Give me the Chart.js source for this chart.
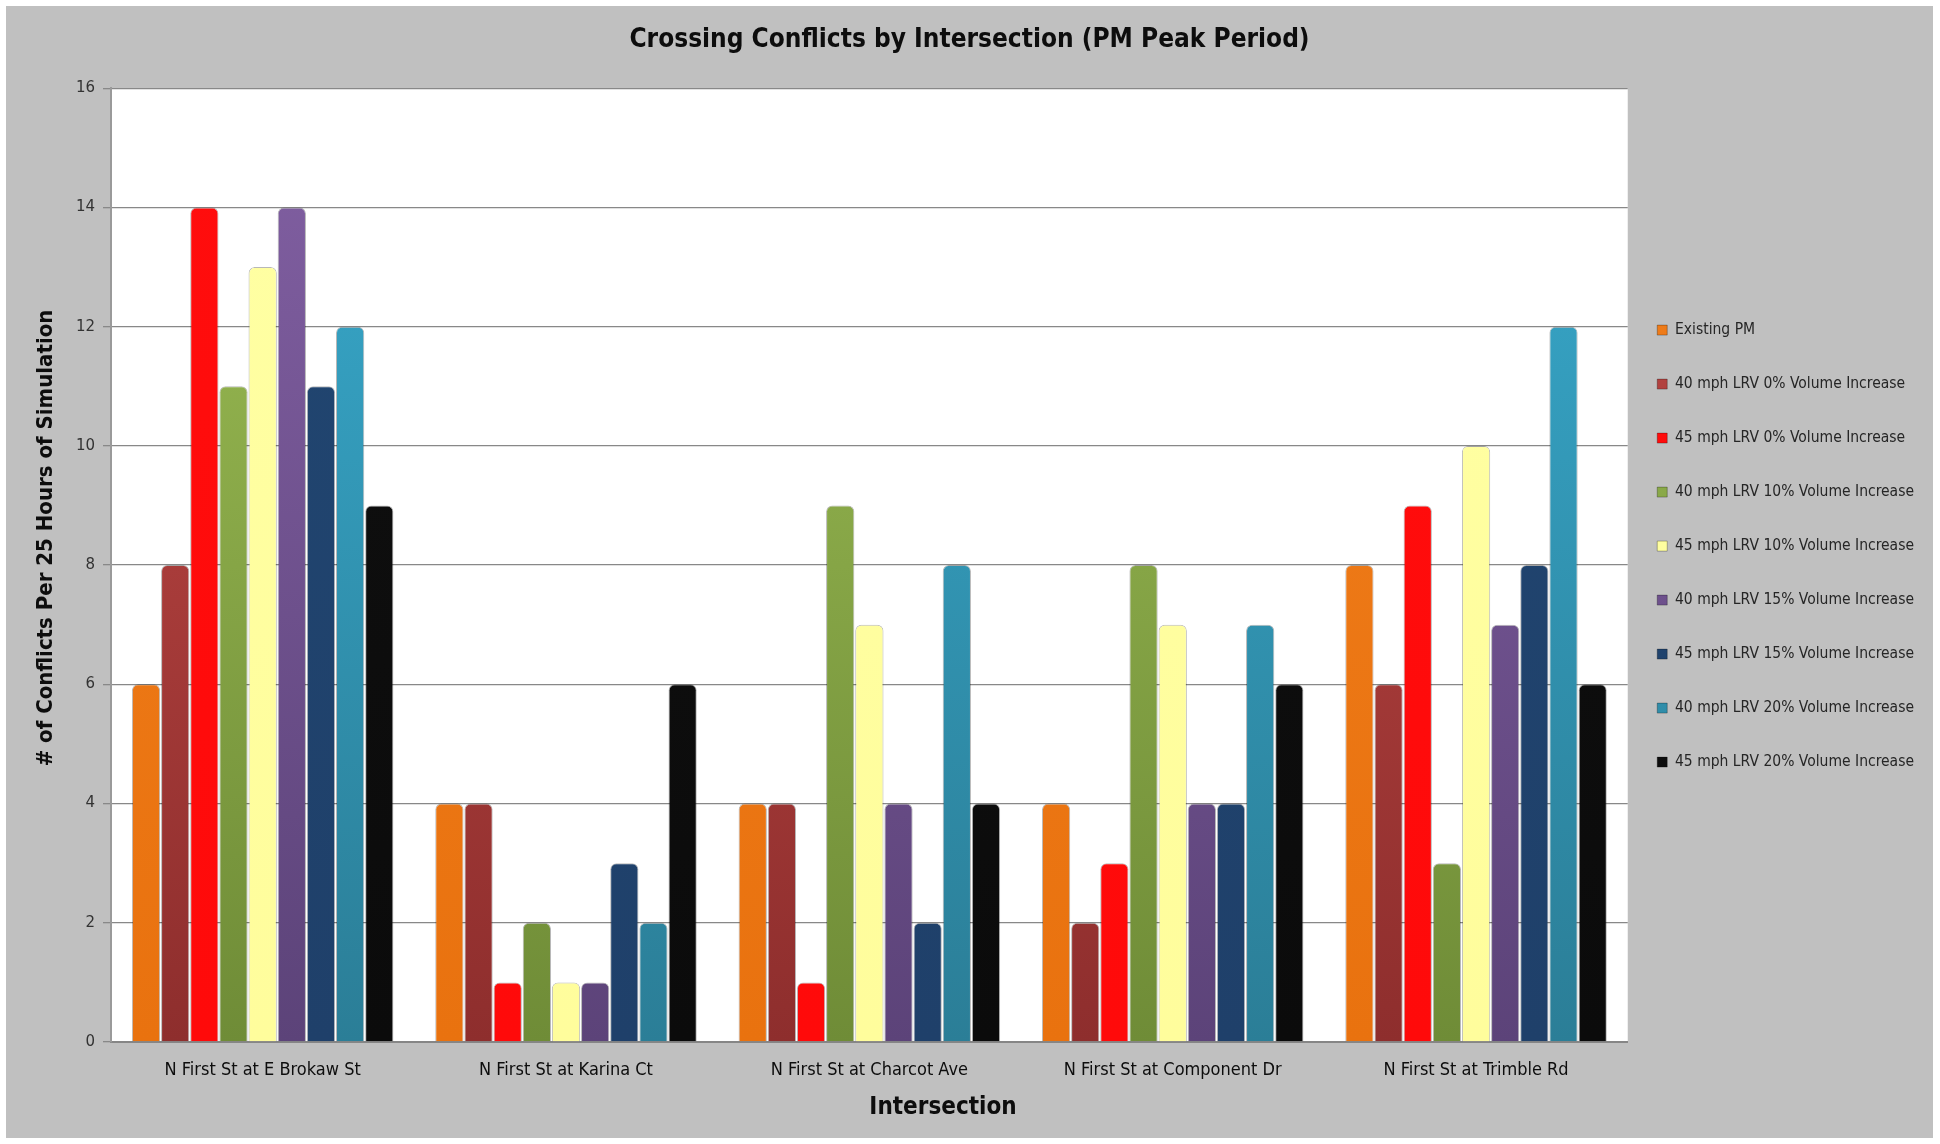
<!DOCTYPE html>
<html>
<head>
<meta charset="utf-8">
<title>Crossing Conflicts by Intersection (PM Peak Period)</title>
<script src="https://cdn.jsdelivr.net/npm/chart.js@4/dist/chart.umd.min.js"></script>
<style>
  html, body { margin: 0; padding: 0; background: #ffffff; }
  #wrap { width: 1940px; height: 1144px; position: relative; }
  canvas { display: block; }
</style>
</head>
<body>
<div id="wrap"><canvas id="chart" width="1940" height="1144"></canvas></div>
<script>
// Intersections along N First St
const intersections = [
  'N First St at E Brokaw St',
  'N First St at Karina Ct',
  'N First St at Charcot Ave',
  'N First St at Component Dr',
  'N First St at Trimble Rd'
];

// Conflicts per 25 hours of simulation, one array per scenario
const existingPM      = [6, 4, 4, 4, 8];
const lrv40Vol0       = [8, 4, 4, 2, 6];
const lrv45Vol0       = [14, 1, 1, 3, 9];
const lrv40Vol10      = [11, 2, 9, 8, 3];
const lrv45Vol10      = [13, 1, 7, 7, 10];
const lrv40Vol15      = [14, 1, 4, 4, 7];
const lrv45Vol15      = [11, 3, 2, 4, 8];
const lrv40Vol20      = [12, 2, 8, 7, 12];
const lrv45Vol20      = [9, 6, 4, 6, 6];

const yTicks = [0, 2, 4, 6, 8, 10, 12, 14, 16];

const NARROW = '"Liberation Sans Narrow", "Arial Narrow", "DejaVu Sans Condensed", sans-serif';

// Scenario styling: [label, values, top colour, bottom colour]
const scenarios = [
  ['Existing PM',                     existingPM, '#F07E1C', '#E9720F'],
  ['40 mph LRV 0% Volume Increase',   lrv40Vol0,  '#C24A47', '#8E2E2D'],
  ['45 mph LRV 0% Volume Increase',   lrv45Vol0,  '#FF0D0D', '#FF0A0A'],
  ['40 mph LRV 10% Volume Increase',  lrv40Vol10, '#9DBE55', '#6F8C37'],
  ['45 mph LRV 10% Volume Increase',  lrv45Vol10, '#FFFFA3', '#FFFD9C'],
  ['40 mph LRV 15% Volume Increase',  lrv40Vol15, '#8260A3', '#5C4379'],
  ['45 mph LRV 15% Volume Increase',  lrv45Vol15, '#214671', '#1F406A'],
  ['40 mph LRV 20% Volume Increase',  lrv40Vol20, '#38AACD', '#2B7E97'],
  ['45 mph LRV 20% Volume Increase',  lrv45Vol20, '#101010', '#0B0B0B']
];

function shade(top, bottom) {
  return function (ctx) {
    const area = ctx.chart.chartArea;
    if (ctx.type !== 'data' || !area) return top;
    const g = ctx.chart.ctx.createLinearGradient(0, area.top, 0, area.bottom);
    g.addColorStop(0, top);
    g.addColorStop(1, bottom);
    return g;
  };
}

const datasets = scenarios.map(([label, data, top, bottom]) => ({
  label: label,
  data: data,
  backgroundColor: shade(top, bottom),
  borderColor: 'rgba(0,0,0,0.28)',
  borderWidth: 1,
  borderSkipped: 'bottom',
  borderRadius: { topLeft: 6, topRight: 6, bottomLeft: 0, bottomRight: 0 },
  categoryPercentage: 0.865,
  barPercentage: 0.97
}));

// Page frame: white margin with a grey panel, white plotting area
const framePlugin = {
  id: 'frame',
  beforeDraw(chart) {
    const c = chart.ctx;
    const a = chart.chartArea;
    c.save();
    c.fillStyle = '#ffffff';
    c.fillRect(0, 0, chart.width, chart.height);
    c.fillStyle = '#C0C0C0';
    c.fillRect(6, 6, chart.width - 13, chart.height - 12);
    c.fillStyle = '#ffffff';
    c.fillRect(a.left, a.top, a.right - a.left, a.bottom - a.top);
    c.restore();
  }
};

// Nudge the legend block a little left and up beside the plot
const legendPlacePlugin = {
  id: 'legendPlace',
  afterLayout(chart) {
    const lg = chart.legend;
    if (!lg) return;
    lg.left -= 9; lg.right -= 9;
    lg.top -= 19; lg.bottom -= 19;
  }
};

// Axis captions
const captionPlugin = {
  id: 'captions',
  afterDraw(chart) {
    const c = chart.ctx;
    c.save();
    c.fillStyle = '#0d0d0d';
    c.textAlign = 'center';
    c.textBaseline = 'middle';
    c.font = 'bold 24px ' + NARROW;
    c.fillText('Intersection', 943, 1108);
    c.translate(46, 538);
    c.rotate(-Math.PI / 2);
    c.font = 'bold 22px ' + NARROW;
    c.fillText('# of Conflicts Per 25 Hours of Simulation', 0, 0);
    c.restore();
  }
};

new Chart(document.getElementById('chart'), {
  type: 'bar',
  data: { labels: intersections, datasets: datasets },
  plugins: [framePlugin, legendPlacePlugin, captionPlugin],
  options: {
    responsive: false,
    animation: false,
    layout: { padding: { left: 6, right: 7, top: 6, bottom: 6 } },
    plugins: {
      title: {
        display: true,
        text: 'Crossing Conflicts by Intersection (PM Peak Period)',
        color: '#0d0d0d',
        font: { family: NARROW, size: 26, weight: 'bold' },
        padding: { top: 19, bottom: 32 }
      },
      legend: {
        position: 'right',
        align: 'center',
        fullSize: false,
        labels: {
          color: '#262626',
          font: { family: NARROW, size: 15.5 },
          boxWidth: 10,
          boxHeight: 10,
          padding: 38.5
        }
      },
      tooltip: { enabled: false }
    },
    scales: {
      x: {
        grid: { display: false, drawTicks: false },
        border: { color: '#868686', width: 2 },
        ticks: {
          color: '#0d0d0d',
          font: { family: NARROW, size: 18 },
          padding: 18,
          maxRotation: 0
        },
        afterFit(scale) { scale.height = 96; }
      },
      y: {
        min: 0,
        max: 16,
        afterBuildTicks(scale) { scale.ticks = yTicks.map(v => ({ value: v })); },
        grid: { color: '#888888', lineWidth: 1.3, tickLength: 8 },
        border: { color: '#9a9a9a', width: 2 },
        ticks: {
          color: '#333333',
          font: { family: '"DejaVu Sans", Verdana, sans-serif', size: 15 },
          padding: 8
        },
        afterFit(scale) { scale.width = 105; }
      }
    }
  }
});
</script>
</body>
</html>
